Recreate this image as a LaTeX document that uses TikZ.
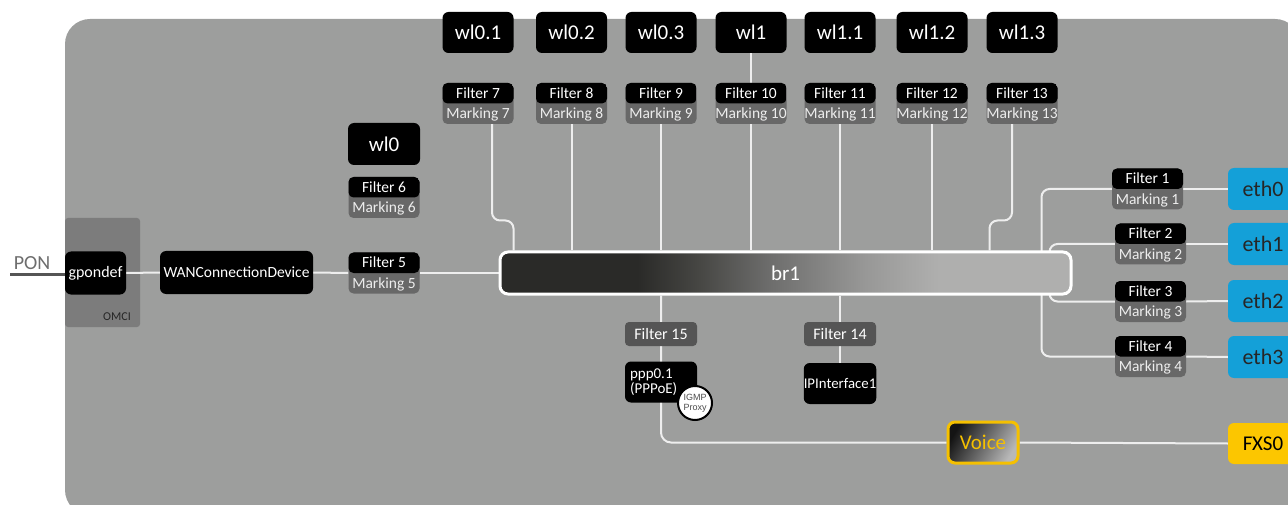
\documentclass[tikz,border=0pt]{standalone}
\usepackage{fontspec}
\setmainfont{Carlito}
\newfontfamily\arialfont{Liberation Sans}
\usetikzlibrary{calc}
\pgfdeclarelayer{back}
\pgfdeclarelayer{bg}
\pgfsetlayers{back,bg,main}
\definecolor{bggray}{HTML}{9D9E9D}
\definecolor{omcigray}{HTML}{7C7C7C}
\definecolor{markgray}{HTML}{686868}
\definecolor{fgray}{HTML}{555555}
\definecolor{linec}{HTML}{EEEEEE}
\definecolor{ethblue}{HTML}{14A0D8}
\definecolor{yel}{HTML}{FCC600}
\definecolor{yelb}{HTML}{F5C000}
\definecolor{brA}{HTML}{2A2A28}
\definecolor{brB}{HTML}{474744}
\definecolor{brC}{HTML}{6C6C6B}
\definecolor{brD}{HTML}{979796}
\definecolor{brE}{HTML}{AFAFAE}
\definecolor{pongray}{HTML}{6D6D6D}
\pgfdeclarehorizontalshading{brshade}{100bp}{color(0bp)=(brA); color(37bp)=(brA); color(42.5bp)=(brB); color(48.4bp)=(brC); color(56.8bp)=(brD); color(63.4bp)=(brE); color(100bp)=(brE)}
\tikzset{
  conn/.style={draw=linec, line width=2pt, rounded corners=8pt},
  blk/.style={fill=black, rounded corners=6pt, text=white, inner sep=0pt, minimum width=71pt, minimum height=41pt},
  wlbox/.style={blk, font=\fontsize{21}{24}\selectfont},
  fmbox/.style={fill=markgray, rounded corners=5pt, minimum width=71pt, minimum height=41pt, inner sep=0pt,
    path picture={\fill[black] (path picture bounding box.north west) rectangle (path picture bounding box.east);}},
  ftxt/.style={inner sep=0pt, text height=10pt, text depth=0pt, font=\fontsize{15.5}{17}\selectfont, text=white},
  mtxt/.style={ftxt, text=white!93!black},
  fsingle/.style={fill=fgray, rounded corners=4pt, minimum width=72pt, minimum height=24pt, inner sep=0pt, text=white, font=\fontsize{16}{18}\selectfont},
  ethbox/.style={fill=ethblue, rounded corners=6pt, minimum width=70pt, minimum height=42pt, inner sep=0pt, text=black!85, font=\fontsize{22}{24}\selectfont},
}
\newcommand\fmnode[4]{%
  \node[fmbox] (#1) at (#2,#3) {};
  \node[ftxt] (#1t) at ([yshift=10.25pt]#1.center) {Filter #4};
  \node[mtxt] (#1m) at ([yshift=-10.25pt]#1.center) {Marking #4};
}
\begin{document}
\begin{tikzpicture}[x=1pt,y=-1pt]
\useasboundingbox (0,0) rectangle (1288,505);
\begin{pgfonlayer}{back}
  \fill[bggray, rounded corners=25pt] (65,19) rectangle (1300,515);
  \fill[omcigray, rounded corners=3pt] (65,218) rectangle (140,327);
\end{pgfonlayer}

% left part
\node[font=\fontsize{20}{24}\selectfont, text=pongray, inner sep=0pt] (pon) at (32,263) {PON};
\coordinate (ponend) at (10,274);
\node[blk, minimum width=61pt, minimum height=43pt, font=\fontsize{16}{18}\selectfont] (gpon) at (95.5,273) {gpondef};
\node[font=\fontsize{12}{14}\selectfont, text=black!85, inner sep=0pt] (omci) at (117,317) {OMCI};
\node[blk, minimum width=153pt, minimum height=43pt, font=\fontsize{15.5}{18}\selectfont] (wan) at (236.5,272.5) {WANConnectionDevice};

\node[wlbox, minimum width=72pt, minimum height=42pt] (wl0) at (384,144) {wl0};
\fmnode{f6}{384}{197.5}{6}
\fmnode{f5}{384}{273}{5}

% top wl
\node[wlbox] (wl01) at (478,32.5) {wl0.1};
\node[wlbox] (wl02) at (571.5,32.5) {wl0.2};
\node[wlbox] (wl03) at (661,32.5) {wl0.3};
\node[wlbox] (wl1) at (751,32.5) {wl1};
\node[wlbox] (wl11) at (840,32.5) {wl1.1};
\node[wlbox] (wl12) at (932,32.5) {wl1.2};
\node[wlbox] (wl13) at (1022,32.5) {wl1.3};
\fmnode{f7}{478}{103.5}{7}
\fmnode{f8}{571.5}{103.5}{8}
\fmnode{f9}{661}{103.5}{9}
\fmnode{f10}{751}{103.5}{10}
\fmnode{f11}{840}{103.5}{11}
\fmnode{f12}{932}{103.5}{12}
\fmnode{f13}{1022}{103.5}{13}

% bridge
\node[shade, shading=brshade, draw=white, line width=3pt, rounded corners=8pt, minimum width=571pt, minimum height=42pt, inner sep=0pt, text=white, font=\fontsize{21}{24}\selectfont] (br1) at (785.5,273) {br1};

% right
\fmnode{f1}{1147.5}{189}{1}
\fmnode{f2}{1150.5}{244}{2}
\fmnode{f3}{1150.5}{301.5}{3}
\fmnode{f4}{1150.5}{356.5}{4}
\node[ethbox] (eth0) at (1263,189) {eth0};
\node[ethbox] (eth1) at (1263,244) {eth1};
\node[ethbox] (eth2) at (1263,301) {eth2};
\node[ethbox] (eth3) at (1263,357) {eth3};

% bottom
\node[fsingle] (f15) at (661,334) {Filter 15};
\node[fsingle] (f14) at (840,334) {Filter 14};
\node[blk, minimum width=72pt, inner xsep=5pt, text width=62pt, align=left, font=\fontsize{15}{15.5}\selectfont] (ppp) at (661,382) {ppp0.1\\(PPPoE)};
\node[circle, fill=white, draw=black, line width=2pt, minimum size=34pt, inner sep=0pt, align=center, text=black!70, font=\arialfont\fontsize{9}{10}\selectfont] (igmp) at (695,403) {IGMP\\Proxy};
\node[blk, minimum width=72pt, font=\fontsize{14.8}{17}\selectfont] (ipi) at (840,383.5) {IPInterface1};
\node[draw=yelb, line width=3pt, rounded corners=7pt, left color=black!92, right color=black!28, shading angle=60, minimum width=70pt, minimum height=41pt, inner sep=0pt, text=yelb, font=\fontsize{21}{24}\selectfont] (voice) at (983,442.5) {Voice};
\node[fill=yel, rounded corners=6pt, minimum width=70pt, minimum height=41pt, inner sep=0pt, text=black, font=\fontsize{21}{24}\selectfont] (fxs) at (1263,443.5) {FXS0};

% connectors
\begin{pgfonlayer}{bg}
  \draw[draw=fgray, line width=3pt] (ponend) -- (gpon.west |- ponend);
  \draw[conn] (gpon.east) -- (wan.west);
  \draw[conn] (wan.east) -- (f5.west);
  \draw[conn] (f5.east) -- (br1.west);
  \draw[conn] (wl1.south) -- (f10.north);
  \draw[conn] ([xshift=14pt]f7.south) |- ([xshift=15pt,yshift=30pt]br1.north west) -- ([xshift=15pt]br1.north west);
  \draw[conn] (f8.south) -- (f8.south |- br1.north);
  \draw[conn] (f9.south) -- (f9.south |- br1.north);
  \draw[conn] (f10.south) -- (f10.south |- br1.north);
  \draw[conn] (f11.south) -- (f11.south |- br1.north);
  \draw[conn] (f12.south) -- (f12.south |- br1.north);
  \draw[conn] ([xshift=-10pt]f13.south) |- ([xshift=-83pt,yshift=30pt]br1.north east) -- ([xshift=-83pt]br1.north east);
  \draw[conn] (f1.west) -| ([xshift=-31pt]br1.east) |- (f4.west);
  \draw[conn] (f2.west) -| ([xshift=-23pt]br1.east);
  \draw[conn] (f3.west) -| ([xshift=-23pt]br1.east);
  \draw[conn] (f1.east) -- (eth0.west);
  \draw[conn] (f2.east) -- (eth1.west);
  \draw[conn] (f3.east) -- (eth2.west);
  \draw[conn] (f4.east) -- (eth3.west);
  \draw[conn, rounded corners=10pt] (f15.north |- br1.south) |- (voice.west);
  \draw[conn] (voice.east) -- (fxs.west);
  \draw[conn] (f14.north |- br1.south) -- (ipi.center);
\end{pgfonlayer}
\end{tikzpicture}
\end{document}
